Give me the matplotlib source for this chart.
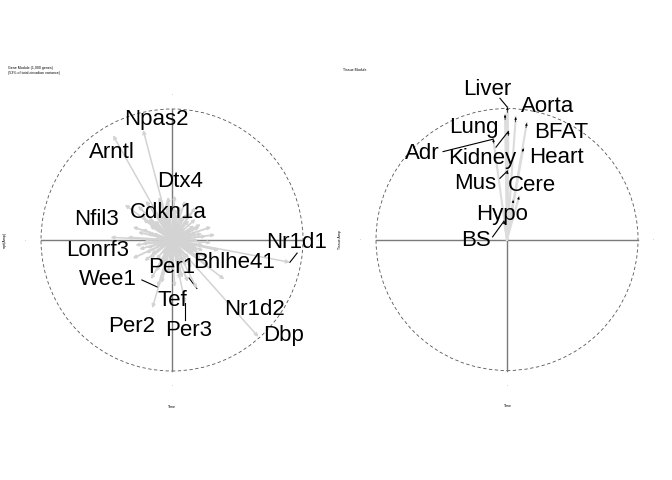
import matplotlib
matplotlib.use("Agg")
import matplotlib.pyplot as plt
from matplotlib.patches import Circle

plt.rcParams["font.family"] = ["Liberation Sans", "DejaVu Sans"]

# =============================================================================
# DATA  (units: radius of the dashed circle = 1)
# =============================================================================

# labelled genes: arrow tip and label position
gene_names = ["Npas2", "Arntl", "Dtx4", "Cdkn1a", "Nfil3", "Lonrf3", "Nr1d1",
              "Bhlhe41", "Per1", "Wee1", "Tef", "Per3", "Per2", "Nr1d2", "Dbp"]
gene_tip_x = [-0.22, -0.45, -0.03, -0.05, -0.36, -0.47, 0.90,
              0.25, 0.19, -0.11, 0.06, 0.10, -0.15, 0.40, 0.66]
gene_tip_y = [0.84, 0.80, 0.33, 0.22, 0.27, 0.02, -0.17,
              -0.12, -0.37, -0.36, -0.30, -0.48, -0.52, -0.30, -0.74]
gene_lab_x = [-0.12, -0.46, 0.06, -0.03, -0.58, -0.57, 0.95,
              0.47, 0.00, -0.49, 0.00, 0.13, -0.31, 0.63, 0.85]
gene_lab_y = [0.92, 0.67, 0.45, 0.21, 0.16, -0.08, -0.02,
              -0.17, -0.21, -0.30, -0.46, -0.69, -0.66, -0.53, -0.73]
# short leader lines (label side start) for a few genes
leader_genes = ["Nr1d1", "Wee1", "Per3", "Per1"]
leader_x0 = [0.955, -0.23, 0.10, 0.13]
leader_y0 = [-0.10, -0.305, -0.61, -0.29]

# unlabelled genes forming the central cloud
cloud_x = [0.20, 0.19, 0.17, 0.13, 0.08, 0.03, -0.03, -0.08, -0.13, -0.17, -0.19,
           -0.21, -0.19, -0.16, -0.12, -0.07, -0.02, 0.04, 0.09, 0.13, 0.17, 0.19,
           0.13, 0.10, 0.04, -0.03, -0.09, -0.13, -0.12, -0.07, 0.00, 0.07, 0.12,
           0.26, 0.24, 0.22, 0.15, 0.06, -0.05, -0.14, -0.22, -0.26, -0.25, -0.21,
           -0.12, -0.03, 0.06, 0.15, 0.22,
           0.30, 0.36, -0.30, -0.34, -0.20, -0.10, 0.02, 0.10, -0.26, -0.08, 0.02,
           0.12, 0.28, -0.30, 0.30, -0.16, 0.18,
           0.16, -0.16, 0.05, -0.05, 0.10, -0.10, 0.02, -0.02,
           0.23, 0.21, 0.18, 0.11, 0.01, -0.10, -0.18, -0.23, -0.23, -0.17, -0.09,
           0.00, 0.11, 0.19, 0.24, 0.15, -0.15, 0.07, -0.07, 0.20, -0.20, 0.03,
           -0.28, 0.33, 0.27, -0.24, 0.08, -0.04]
cloud_y = [0.00, 0.06, 0.11, 0.15, 0.18, 0.20, 0.19, 0.18, 0.15, 0.11, 0.05,
           0.00, -0.06, -0.11, -0.15, -0.18, -0.19, -0.18, -0.17, -0.14, -0.10, -0.05,
           0.02, 0.09, 0.13, 0.12, 0.09, 0.03, -0.05, -0.11, -0.13, -0.11, -0.06,
           0.03, -0.08, 0.12, 0.21, 0.26, 0.27, 0.23, 0.16, 0.06, -0.07, -0.16,
           -0.24, -0.26, -0.25, -0.21, -0.14,
           -0.02, -0.08, 0.10, 0.02, 0.30, 0.33, 0.34, 0.30, 0.26, -0.33, -0.36,
           -0.32, -0.20, -0.14, 0.10, -0.30, 0.25,
           0.04, -0.02, -0.16, 0.16, -0.02, 0.01, 0.08, -0.08,
           0.05, 0.10, 0.16, 0.20, 0.23, 0.22, 0.16, 0.08, -0.03, -0.14, -0.21,
           -0.23, -0.20, -0.13, -0.04, 0.07, 0.05, -0.19, 0.20, -0.08, -0.10, 0.24,
           -0.04, 0.04, -0.13, 0.19, -0.29, 0.30]

# tissues
tissue_names = ["Liver", "Aorta", "Lung", "BFAT", "Kidney", "Adr", "Heart",
                "Mus", "Cere", "Hypo", "BS"]
tissue_tip_x = [0.003, 0.067, -0.015, 0.151, 0.010, -0.105, 0.125,
                0.003, 0.092, 0.048, -0.023]
tissue_tip_y = [1.010, 0.935, 0.952, 0.889, 0.825, 0.766, 0.697,
                0.523, 0.326, 0.301, 0.140]
tissue_lab_x = [-0.15, 0.31, -0.25, 0.41, -0.19, -0.65, 0.38,
                -0.24, 0.19, -0.04, -0.24]
tissue_lab_y = [1.144, 1.014, 0.853, 0.815, 0.615, 0.654, 0.623,
                0.424, 0.416, 0.194, -0.005]
t_leader_names = ["Liver", "Adr", "Kidney", "Mus", "BS"]
t_leader_x0 = [-0.054, -0.488, -0.084, -0.054, -0.110]
t_leader_y0 = [1.078, 0.671, 0.705, 0.467, 0.020]

# =============================================================================
# PLOT
# =============================================================================
W, H = 672, 480
fig = plt.figure(figsize=(W / 100, H / 100), dpi=100)

R_PX = 131
HALF = 150


def make_ax(cx, cy):
    ax = fig.add_axes([(cx - HALF) / W, (H - cy - HALF) / H, 2 * HALF / W, 2 * HALF / H])
    lim = HALF / R_PX
    ax.set_xlim(-lim, lim)
    ax.set_ylim(-lim, lim)
    ax.axis("off")
    ax.add_patch(Circle((0, 0), 1, fill=False, ls=(0, (4, 3)), lw=0.6, color="#555555"))
    ax.plot([-1, 1], [0, 0], color="#7a7a7a", lw=1.0)
    ax.plot([0, 0], [-1, 1], color="#7a7a7a", lw=1.0)
    # tiny tick marks outside the circle
    for x, y in [(0, 1.11), (0, -1.11), (-1.12, 0), (1.12, 0)]:
        ax.text(x, y, "-", fontsize=2.5, color="#666666", ha="center", va="center")
    return ax


def arrow(ax, x, y, color, lw, head=5):
    ax.annotate("", xy=(x, y), xytext=(0, 0),
                arrowprops=dict(arrowstyle="-|>", color=color, lw=lw,
                                mutation_scale=head, shrinkA=0, shrinkB=0))


# ---- left: gene module
ax1 = make_ax(172, 240)
for x, y in zip(cloud_x, cloud_y):
    arrow(ax1, x, y, "#d3d3d3", 1.3, 4)
for x, y in zip(gene_tip_x, gene_tip_y):
    arrow(ax1, x, y, "#d3d3d3", 1.1, 5)
for name, x0, y0 in zip(leader_genes, leader_x0, leader_y0):
    i = gene_names.index(name)
    ax1.plot([x0, gene_tip_x[i]], [y0, gene_tip_y[i]], color="black", lw=0.8)
for name, x, y in zip(gene_names, gene_lab_x, gene_lab_y):
    ax1.text(x, y, name, fontsize=16, ha="center", va="center", color="black")

# ---- right: tissue module
ax2 = make_ax(507, 239.5)
for x, y in zip(tissue_tip_x, tissue_tip_y):
    ax2.plot([0, x], [0, y], color="#dcdcdc", lw=1.5)
    ax2.annotate("", xy=(x, y), xytext=(0.96 * x, 0.96 * y),
                 arrowprops=dict(arrowstyle="-|>", color="black", lw=0.5,
                                 mutation_scale=3, shrinkA=0, shrinkB=0))
for name, x0, y0 in zip(t_leader_names, t_leader_x0, t_leader_y0):
    i = tissue_names.index(name)
    ax2.plot([x0, tissue_tip_x[i]], [y0, tissue_tip_y[i]], color="black", lw=0.8)
for name, x, y in zip(tissue_names, tissue_lab_x, tissue_lab_y):
    ax2.text(x, y, name, fontsize=16, ha="center", va="center", color="black")

# ---- tiny titles and axis labels
fig.text(8 / W, 1 - 68 / H, "Gene Module (1,000 genes)", fontsize=2.6, va="center")
fig.text(8 / W, 1 - 73 / H, "(53% of total circadian variance)", fontsize=2.6, va="center")
fig.text(343 / W, 1 - 70 / H, "Tissue Module", fontsize=2.6, va="center")
fig.text(172 / W, 1 - 407 / H, "Time", fontsize=2.6, ha="center", va="center")
fig.text(508 / W, 1 - 406 / H, "Time", fontsize=2.6, ha="center", va="center")
fig.text(5 / W, 1 - 240 / H, "sqrt(Amp)", fontsize=2.6, rotation=90, ha="center", va="center")
fig.text(340 / W, 1 - 240 / H, "Tissue Amp", fontsize=2.6, rotation=90, ha="center", va="center")

fig.savefig("out.png", dpi=100)
